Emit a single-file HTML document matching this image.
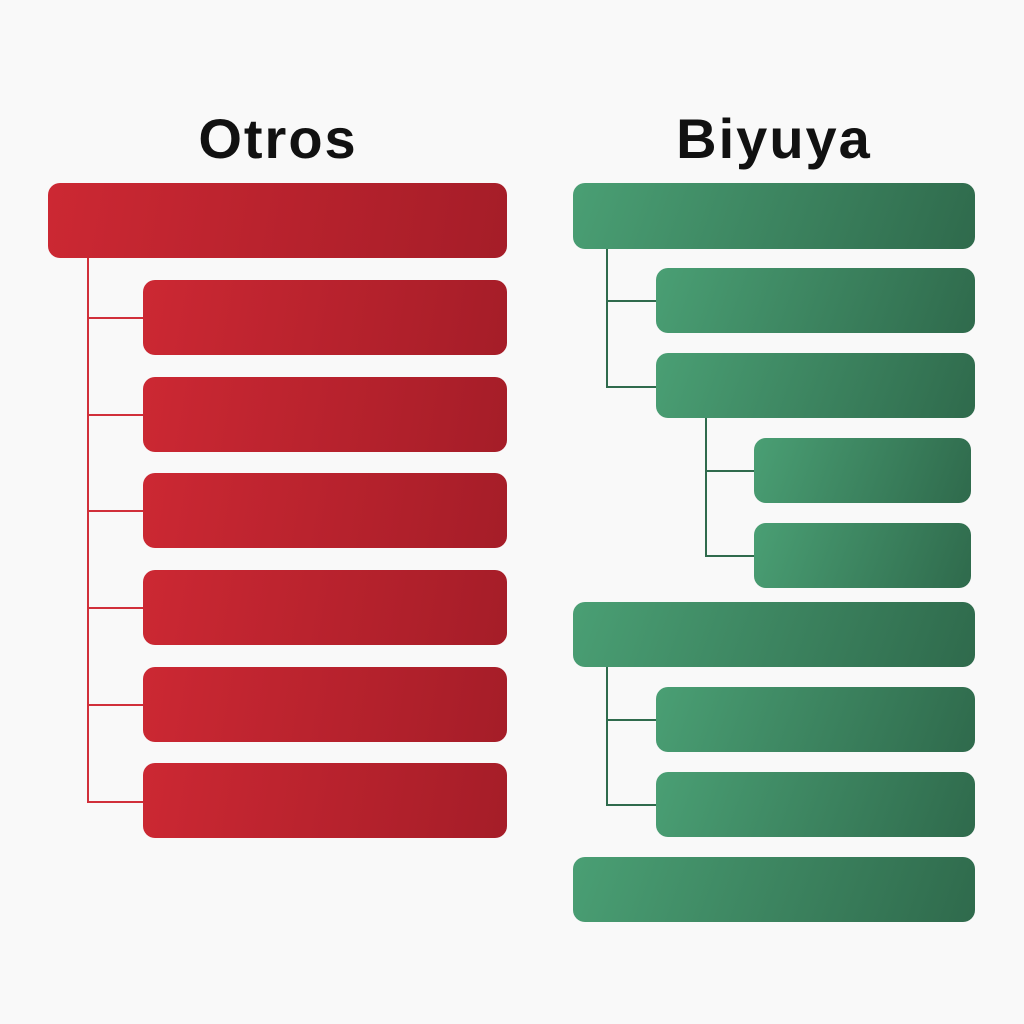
<!DOCTYPE html>
<html><head><meta charset="utf-8"><style>
html,body{margin:0;padding:0;background:#f9f9f9;}
body{width:1024px;height:1024px;position:relative;overflow:hidden;font-family:"Liberation Sans",sans-serif;}
.t{position:absolute;top:106px;font-size:56px;font-weight:bold;color:#111;text-align:center;width:400px;letter-spacing:2px;}
.b{position:absolute;border-radius:12px;}
.r{background:linear-gradient(100deg,#cc2833,#a51d28);}
.g{background:linear-gradient(110deg,#4a9f74,#2f6a4c);}
.l{position:absolute;}
.lr{background:#d1303a;}
.lg{background:#2f6b4d;}
</style></head><body>
<div class="t" style="left:78px">Otros</div>
<div class="t" style="left:574px">Biyuya</div>

<div class="l lr" style="left:87px;top:258px;width:2px;height:545px"></div>
<div class="l lr" style="left:87px;top:317px;width:56px;height:2px"></div>
<div class="l lr" style="left:87px;top:414px;width:56px;height:2px"></div>
<div class="l lr" style="left:87px;top:510px;width:56px;height:2px"></div>
<div class="l lr" style="left:87px;top:607px;width:56px;height:2px"></div>
<div class="l lr" style="left:87px;top:704px;width:56px;height:2px"></div>
<div class="l lr" style="left:87px;top:801px;width:56px;height:2px"></div>
<div class="b r" style="left:48px;top:183px;width:459px;height:75px"></div>
<div class="b r" style="left:143px;top:280px;width:364px;height:75px"></div>
<div class="b r" style="left:143px;top:377px;width:364px;height:75px"></div>
<div class="b r" style="left:143px;top:473px;width:364px;height:75px"></div>
<div class="b r" style="left:143px;top:570px;width:364px;height:75px"></div>
<div class="b r" style="left:143px;top:667px;width:364px;height:75px"></div>
<div class="b r" style="left:143px;top:763px;width:364px;height:75px"></div>

<div class="l lg" style="left:606px;top:249px;width:2px;height:139px"></div>
<div class="l lg" style="left:606px;top:300px;width:50px;height:2px"></div>
<div class="l lg" style="left:606px;top:386px;width:50px;height:2px"></div>
<div class="l lg" style="left:705px;top:418px;width:2px;height:139px"></div>
<div class="l lg" style="left:705px;top:470px;width:49px;height:2px"></div>
<div class="l lg" style="left:705px;top:555px;width:49px;height:2px"></div>
<div class="l lg" style="left:606px;top:667px;width:2px;height:139px"></div>
<div class="l lg" style="left:606px;top:719px;width:50px;height:2px"></div>
<div class="l lg" style="left:606px;top:804px;width:50px;height:2px"></div>

<div class="b g" style="left:573px;top:183px;width:402px;height:66px"></div>
<div class="b g" style="left:656px;top:268px;width:319px;height:65px"></div>
<div class="b g" style="left:656px;top:353px;width:319px;height:65px"></div>
<div class="b g" style="left:754px;top:438px;width:217px;height:65px"></div>
<div class="b g" style="left:754px;top:523px;width:217px;height:65px"></div>
<div class="b g" style="left:573px;top:602px;width:402px;height:65px"></div>
<div class="b g" style="left:656px;top:687px;width:319px;height:65px"></div>
<div class="b g" style="left:656px;top:772px;width:319px;height:65px"></div>
<div class="b g" style="left:573px;top:857px;width:402px;height:65px"></div>
</body></html>
